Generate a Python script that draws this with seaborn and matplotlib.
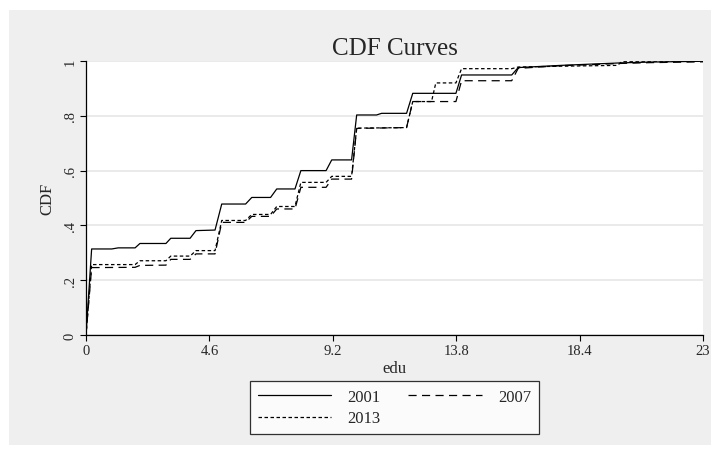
import numpy as np
import pandas as pd
import seaborn as sns
import matplotlib.pyplot as plt
from matplotlib.patches import Rectangle
from matplotlib.lines import Line2D

# CDF of edu by survey year (vertices)
edu_2001 = [0, 0.21, 0.96, 1.2, 1.83, 2.01, 2.98, 3.16, 3.88, 4.10, 4.81, 5.06,
            5.95, 6.18, 6.88, 7.11, 7.79, 8.01, 8.95, 9.16, 9.90, 10.09, 10.83,
            11.02, 11.95, 12.18, 13.79, 14.00, 15.87, 16.11, 16.9, 17.7, 18.9,
            19.9, 21.0, 23.0]
cdf_2001 = [0, 0.314, 0.314, 0.318, 0.318, 0.334, 0.334, 0.353, 0.353, 0.381,
            0.383, 0.478, 0.478, 0.502, 0.502, 0.533, 0.533, 0.600, 0.600,
            0.639, 0.639, 0.803, 0.803, 0.809, 0.809, 0.882, 0.882, 0.949,
            0.949, 0.976, 0.980, 0.984, 0.989, 0.993, 0.996, 0.999]

edu_2007 = [0, 0.21, 1.83, 2.01, 2.98, 3.16, 3.88, 4.10, 4.81, 5.06, 5.95, 6.18,
            6.88, 7.11, 7.79, 8.01, 8.95, 9.16, 9.90, 10.09, 11.95, 12.18, 13.79,
            14.00, 15.87, 16.11, 16.9, 17.7, 18.9, 19.9, 21.0, 23.0]
cdf_2007 = [0, 0.246, 0.247, 0.254, 0.255, 0.276, 0.276, 0.296, 0.296, 0.411,
            0.411, 0.433, 0.433, 0.460, 0.460, 0.539, 0.539, 0.569, 0.569,
            0.754, 0.757, 0.852, 0.852, 0.928, 0.928, 0.973, 0.978, 0.983,
            0.987, 0.991, 0.994, 0.997]

edu_2013 = [0, 0.21, 1.83, 2.01, 2.98, 3.16, 3.88, 4.10, 4.81, 5.06, 5.95, 6.18,
            6.88, 7.11, 7.79, 8.01, 8.95, 9.16, 9.90, 10.09, 11.95, 12.18, 12.88,
            13.04, 13.79, 14.00, 15.87, 16.11, 17.7, 19.8, 20.0, 23.0]
cdf_2013 = [0, 0.257, 0.257, 0.271, 0.271, 0.288, 0.288, 0.308, 0.308, 0.418,
            0.418, 0.440, 0.440, 0.469, 0.469, 0.557, 0.557, 0.579, 0.579,
            0.755, 0.757, 0.852, 0.852, 0.920, 0.920, 0.972, 0.972, 0.978,
            0.981, 0.984, 0.999, 1.0]

x_ticks = [0, 4.6, 9.2, 13.8, 18.4, 23]
x_tick_labels = ['0', '4.6', '9.2', '13.8', '18.4', '23']
y_ticks = [0, 0.2, 0.4, 0.6, 0.8, 1]
y_tick_labels = ['0', '.2', '.4', '.6', '.8', '1']

series = [('2001', edu_2001, cdf_2001, (None, None)),
          ('2007', edu_2007, cdf_2007, (0, (6.5, 4.3))),
          ('2013', edu_2013, cdf_2013, (0, (2.8, 2.0)))]

sns.set_theme(style='white')
plt.rcParams['font.family'] = ['Liberation Serif', 'DejaVu Serif']

fig = plt.figure(figsize=(7.2, 4.56), dpi=100)
fig.patch.set_facecolor('white')
fig.add_artist(Rectangle((9 / 720, 1 - 446 / 456), 702 / 720, 435 / 456,
                         transform=fig.transFigure, facecolor='#efefef',
                         edgecolor='none', zorder=-10))

ax = fig.add_axes([86 / 720, 1 - 336 / 456, 617 / 720, 274 / 456])
ax.set_facecolor('white')

handles = {}
for name, xs, ys, ls in series:
    df = pd.DataFrame({'edu': xs, 'cdf': ys})
    sns.lineplot(data=df, x='edu', y='cdf', ax=ax, color='black', lw=0.9,
                 sort=False, estimator=None)
    line = ax.lines[-1]
    if ls[0] is not None:
        line.set_linestyle(ls)
    handles[name] = Line2D([], [], color='black', lw=0.9,
                           linestyle=ls if ls[0] is not None else '-')

ax.set_xlim(0, 23)
ax.set_ylim(0, 1)
ax.set_xticks(x_ticks)
ax.set_xticklabels(x_tick_labels, fontsize=10.5)
ax.set_yticks(y_ticks)
ax.set_yticklabels(y_tick_labels, fontsize=10.5, rotation=90, va='center')
ax.tick_params(axis='both', direction='out', length=4.3, width=0.8,
               color='black', bottom=True, left=True, pad=2.5)
ax.yaxis.grid(True, color='#eaeaea', lw=1.4)
ax.xaxis.grid(False)
ax.set_axisbelow(True)
for side in ['top', 'right']:
    ax.spines[side].set_visible(False)
for side in ['left', 'bottom']:
    ax.spines[side].set_color('black')
    ax.spines[side].set_linewidth(0.9)

ax.set_xlabel('edu', fontsize=12, labelpad=2)
ax.set_ylabel('CDF', fontsize=12, labelpad=6)
ax.set_title('CDF Curves', fontsize=18, pad=5)

order = ['2001', '2013', '2007']
leg = fig.legend([handles[k] for k in order], order, ncol=2,
                 loc='center', bbox_to_anchor=(394.5 / 720, 1 - 408.5 / 456),
                 fontsize=12, frameon=True, fancybox=False, handlelength=4.4,
                 handletextpad=1.0, columnspacing=1.65, labelspacing=0.35,
                 borderpad=0.45, borderaxespad=0)
leg.get_frame().set_edgecolor('black')
leg.get_frame().set_linewidth(0.9)
leg.get_frame().set_facecolor('white')

fig.savefig('out.png', dpi=100)
